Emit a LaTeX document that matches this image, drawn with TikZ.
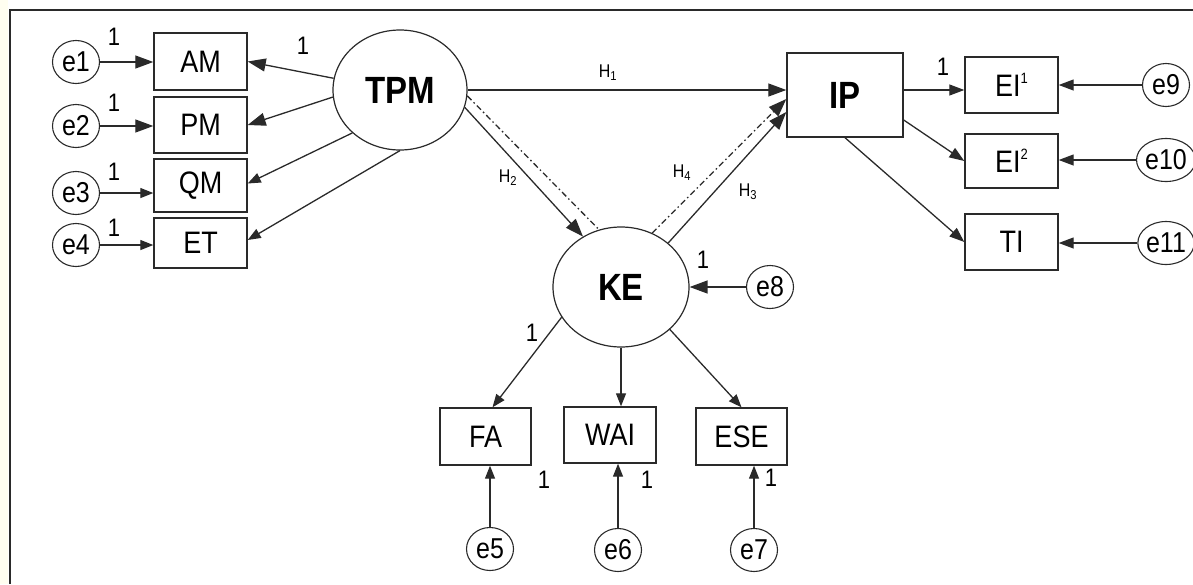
\documentclass[tikz,border=0pt]{standalone}
\usepackage{fontspec}
\usepackage{graphicx}
\setmainfont{Liberation Sans}
\usetikzlibrary{shapes.geometric,arrows.meta}
\definecolor{ln}{HTML}{2A2A2A}
\newcommand{\stt}[1]{\scalebox{1}[1.15]{#1}}
\newcommand{\tsup}[1]{\raisebox{0.42em}{\fontsize{13}{13}\selectfont #1}}
\tikzset{
  obs/.style={draw=ln, line width=1.4pt, rectangle, inner sep=0pt, font=\fontsize{27}{31}\selectfont},
  lat/.style={draw=ln, line width=1.2pt, ellipse, inner sep=0pt, minimum width=134pt, minimum height=120pt, font=\bfseries\fontsize{33}{38}\selectfont},
  err/.style={draw=ln, line width=1.1pt, ellipse, inner sep=0pt, minimum width=47pt, minimum height=43pt, font=\fontsize{25}{29}\selectfont},
  one/.style={font=\fontsize{22}{26}\selectfont, inner sep=0pt},
  hlab/.style={font=\fontsize{16}{19}\selectfont, inner sep=0pt},
  con/.style={draw=ln, line width=1.3pt},
  bigarr/.style={con, -{Triangle[length=18pt,width=13pt]}},
  medarr/.style={con, -{Triangle[length=15pt,width=11pt]}},
  smlarr/.style={con, -{Triangle[length=13pt,width=10pt]}},
  dd/.style={dash pattern=on 6pt off 3pt on 1.5pt off 3pt},
}
\begin{document}
\begin{tikzpicture}[x=1pt,y=-1pt]
\useasboundingbox (0,0) rectangle (1193,584);
\fill[yellow!6] (0,0) rectangle (8,584);
\draw[line width=2pt, ln] (10,584) -- (10,10) -- (1193,10);

% latent variables
\node[lat] (TPM) at (400,90) {\stt{TPM}};
\node[lat, minimum width=136pt] (KE) at (621,287) {\stt{KE}};
\node[obs, minimum width=116pt, minimum height=84pt, font=\bfseries\fontsize{33}{38}\selectfont] (IP) at (845,95) {\stt{IP}};

% TPM indicators
\node[obs, minimum width=93pt, minimum height=57pt] (AM) at (200.5,61.5) {\stt{AM}};
\node[obs, minimum width=93pt, minimum height=56pt] (PM) at (200.5,125) {\stt{PM}};
\node[obs, minimum width=93pt, minimum height=53pt] (QM) at (200.5,185.5) {\stt{QM}};
\node[obs, minimum width=93pt, minimum height=50pt] (ET) at (200.5,243) {\stt{ET}};

\node[err] (e1) at (76,62) {\stt{e1}};
\node[err] (e2) at (76,126) {\stt{e2}};
\node[err] (e3) at (76,193) {\stt{e3}};
\node[err] (e4) at (76,245) {\stt{e4}};

% IP indicators
\node[obs, minimum width=93pt, minimum height=56pt] (EI1) at (1011.5,85) {\stt{EI\tsup{1}}};
\node[obs, minimum width=93pt, minimum height=54pt] (EI2) at (1011.5,161) {\stt{EI\tsup{2}}};
\node[obs, minimum width=93pt, minimum height=56pt] (TI) at (1011.5,242) {\stt{TI}};

\node[err] (e9) at (1166,85) {\stt{e9}};
\node[err] (e10) at (1166,160) {\stt{e10}};
\node[err] (e11) at (1166,243) {\stt{e11}};

% KE indicators
\node[obs, minimum width=91pt, minimum height=57pt] (FA) at (485.5,436.5) {\stt{FA}};
\node[obs, minimum width=92pt, minimum height=56pt] (WAI) at (610,435) {\stt{WAI}};
\node[obs, minimum width=91pt, minimum height=57pt] (ESE) at (741.5,436.5) {\stt{ESE}};

\node[err] (e5) at (490,549) {\stt{e5}};
\node[err] (e6) at (618,550) {\stt{e6}};
\node[err] (e7) at (754,550) {\stt{e7}};
\node[err] (e8) at (770,287) {\stt{e8}};

% error arrows, left
\draw[bigarr] (e1) -- (e1 -| AM.west);
\draw[bigarr] (e2) -- (e2 -| PM.west);
\draw[smlarr] (e3) -- (e3 -| QM.west);
\draw[smlarr] (e4) -- (e4 -| ET.west);

% loadings TPM
\draw[bigarr] (TPM.170) -- (AM.east);
\draw[bigarr] (TPM.186) -- (PM.east);
\draw[smlarr] (TPM.222) -- ([yshift=2pt]QM.east);
\draw[smlarr] (TPM.270) -- ([yshift=3pt]ET.east);

% structural paths
\draw[bigarr] (TPM.east) -- (TPM.east -| IP.west);
\draw[bigarr] (TPM.-15) -- (KE.127);
\draw[con, dd] (TPM.-5) -- (KE.111);
\draw[bigarr, dd] (KE.60) -- ([yshift=-4pt]IP.west);
\draw[bigarr] (KE.43) -- ([yshift=-17pt]IP.west);

% IP loadings
\draw[medarr] ([yshift=5pt]IP.east) -- ([yshift=5pt]IP.east -| EI1.west);
\draw[medarr] ([yshift=-25pt]IP.east) -- (EI2.west);
\draw[medarr] (IP.south) -- (TI.west);

\draw[medarr] (e9) -- (e9 -| EI1.east);
\draw[medarr] (e10) -- (e10 -| EI2.east);
\draw[medarr] (e11) -- (e11 -| TI.east);

% KE loadings
\draw[bigarr] (e8) -- (KE.east);
\draw[smlarr] (KE.207) -- ([xshift=7pt]FA.north);
\draw[smlarr] (KE.south) -- (KE.south |- WAI.north);
\draw[smlarr] (KE.-41) -- (ESE.north);

\draw[smlarr] (e5) -- (e5 |- FA.south);
\draw[smlarr] (e6) -- (e6 |- WAI.south);
\draw[smlarr] (e7) -- (e7 |- ESE.south);

% labels
\node[one] (l1) at (114,37) {\stt{1}};
\node[one] (l2) at (114,103) {\stt{1}};
\node[one] (l3) at (114,172) {\stt{1}};
\node[one] (l4) at (114,228) {\stt{1}};
\node[one] (l5) at (303,46) {\stt{1}};
\node[one] (l6) at (532,333) {\stt{1}};
\node[one] (l7) at (703,260) {\stt{1}};
\node[one] (l8) at (544,480) {\stt{1}};
\node[one] (l9) at (647,480) {\stt{1}};
\node[one] (l10) at (771,478) {\stt{1}};
\node[one] (l11) at (943,67) {\stt{1}};

\node[hlab] (h1) at (608,73) {\stt{H\textsubscript{1}}};
\node[hlab] (h2) at (508,178) {\stt{H\textsubscript{2}}};
\node[hlab] (h3) at (748,192) {\stt{H\textsubscript{3}}};
\node[hlab] (h4) at (682,173) {\stt{H\textsubscript{4}}};
\end{tikzpicture}
\end{document}
